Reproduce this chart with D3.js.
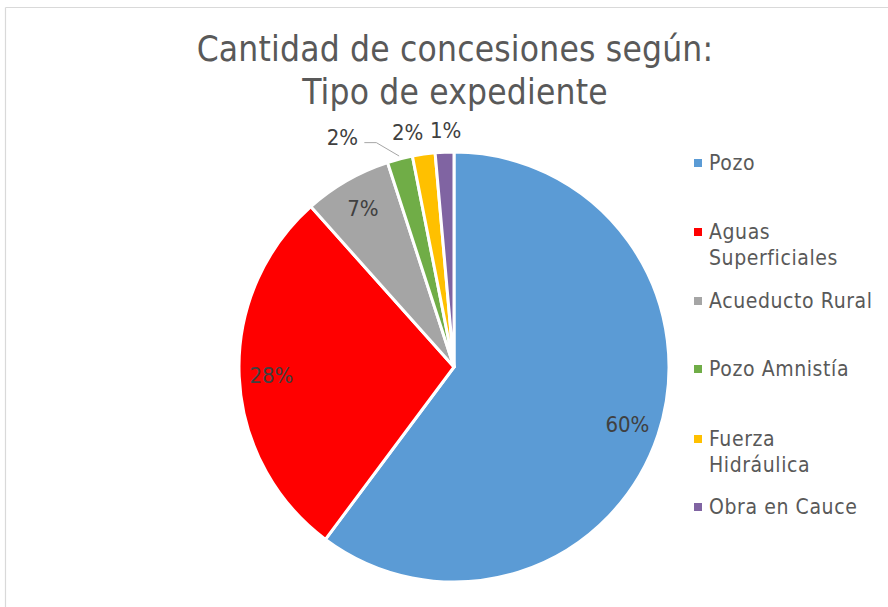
<!DOCTYPE html>
<html>
<head>
<meta charset="utf-8">
<script src="https://cdn.jsdelivr.net/npm/d3@7"></script>
<style>
  body { margin: 0; background: #fff; }
  svg text { font-family: "Liberation Sans Narrow", "DejaVu Sans Condensed", "Roboto Condensed", sans-serif; }
</style>
</head>
<body>
<svg id="chart"></svg>
<script>
// data (percent of concessions)
var categories = ["Pozo", "Aguas Superficiales", "Acueducto Rural", "Pozo Amnistía", "Fuerza Hidráulica", "Obra en Cauce"];
var values = [60.2, 28.2, 6.6, 1.9, 1.7, 1.4];
var labels = ["60%", "28%", "7%", "2%", "2%", "1%"];
var legendLines = [["Pozo"], ["Aguas", "Superficiales"], ["Acueducto Rural"], ["Pozo Amnistía"], ["Fuerza", "Hidráulica"], ["Obra en Cauce"]];
var colors = ["#5B9BD5", "#FF0000", "#A5A5A5", "#70AD47", "#FFC000", "#8064A2"];

const width = 888, height = 607;
const cx = 454, cy = 367, radius = 215;

var svg = d3.select("#chart").attr("width", width).attr("height", height);

// chart frame (only top and left edges are visible)
svg.append("line").attr("x1", 5.5).attr("y1", 7.5).attr("x2", width).attr("y2", 7.5)
    .attr("stroke", "#D9D9D9").attr("stroke-width", 1.2);
svg.append("line").attr("x1", 5.5).attr("y1", 7.5).attr("x2", 5.5).attr("y2", height)
    .attr("stroke", "#D9D9D9").attr("stroke-width", 1.2);

// title
var title = svg.append("text").attr("text-anchor", "middle").attr("fill", "#595959")
    .style("font-size", "35px").style("letter-spacing", "0.2px");
title.append("tspan").attr("x", 455).attr("y", 61).text("Cantidad de concesiones según:");
title.append("tspan").attr("x", 455).attr("y", 104).text("Tipo de expediente");

var pie = d3.pie().sort(null).value(d => d);
var arcs = pie(values);
var arc = d3.arc().innerRadius(0).outerRadius(radius);
var labelArc = d3.arc().innerRadius(radius * 0.85).outerRadius(radius * 0.85);
var outerArc = d3.arc().innerRadius(radius + 22).outerRadius(radius + 22);

var g = svg.append("g").attr("transform", "translate(" + cx + "," + cy + ")");

g.selectAll(".slice")
    .data(arcs)
    .enter().append("path")
    .attr("class", "slice")
    .attr("d", arc)
    .attr("fill", (d, i) => colors[i])
    .attr("stroke", "#fff")
    .attr("stroke-width", 3)
    .attr("stroke-linejoin", "round");

// small slices get their labels outside, nudged apart
var nudge = [0, 0, 0, -52, -13, 2];
function labelPos(d, i) {
    if (values[i] >= 5) return labelArc.centroid(d);
    var p = outerArc.centroid(d);
    return [p[0] + nudge[i], p[1]];
}

// leader line for the pushed-away label
arcs.forEach(function(d, i) {
    if (nudge[i] < -30) {
        var p = labelPos(d, i);
        var a = (d.startAngle + d.endAngle) / 2;
        var edge = [Math.sin(a) * (radius + 3), -Math.cos(a) * (radius + 3)];
        g.append("polyline")
            .attr("points", [[p[0] + 22, p[1] + 5], [p[0] + 34, p[1] + 5], edge].map(q => q.join(",")).join(" "))
            .attr("fill", "none").attr("stroke", "#A6A6A6").attr("stroke-width", 1);
    }
});

g.selectAll(".label")
    .data(arcs)
    .enter().append("text")
    .attr("class", "label")
    .attr("x", (d, i) => labelPos(d, i)[0])
    .attr("y", (d, i) => labelPos(d, i)[1])
    .attr("dy", "0.35em")
    .attr("text-anchor", "middle")
    .attr("fill", "#404040")
    .style("font-size", "22px")
    .text((d, i) => labels[i]);

// legend
var legendY = [163, 232, 301, 369, 439, 507];
var legend = svg.append("g");
categories.forEach(function(c, i) {
    legend.append("rect")
        .attr("x", 694).attr("y", legendY[i] - 4)
        .attr("width", 8).attr("height", 8)
        .attr("fill", colors[i]);
    var t = legend.append("text").attr("fill", "#595959")
        .style("font-size", "21px").style("letter-spacing", "0.6px");
    legendLines[i].forEach(function(line, k) {
        t.append("tspan").attr("x", 709).attr("y", legendY[i] + k * 26).attr("dy", "0.35em").text(line);
    });
});
</script>
</body>
</html>
